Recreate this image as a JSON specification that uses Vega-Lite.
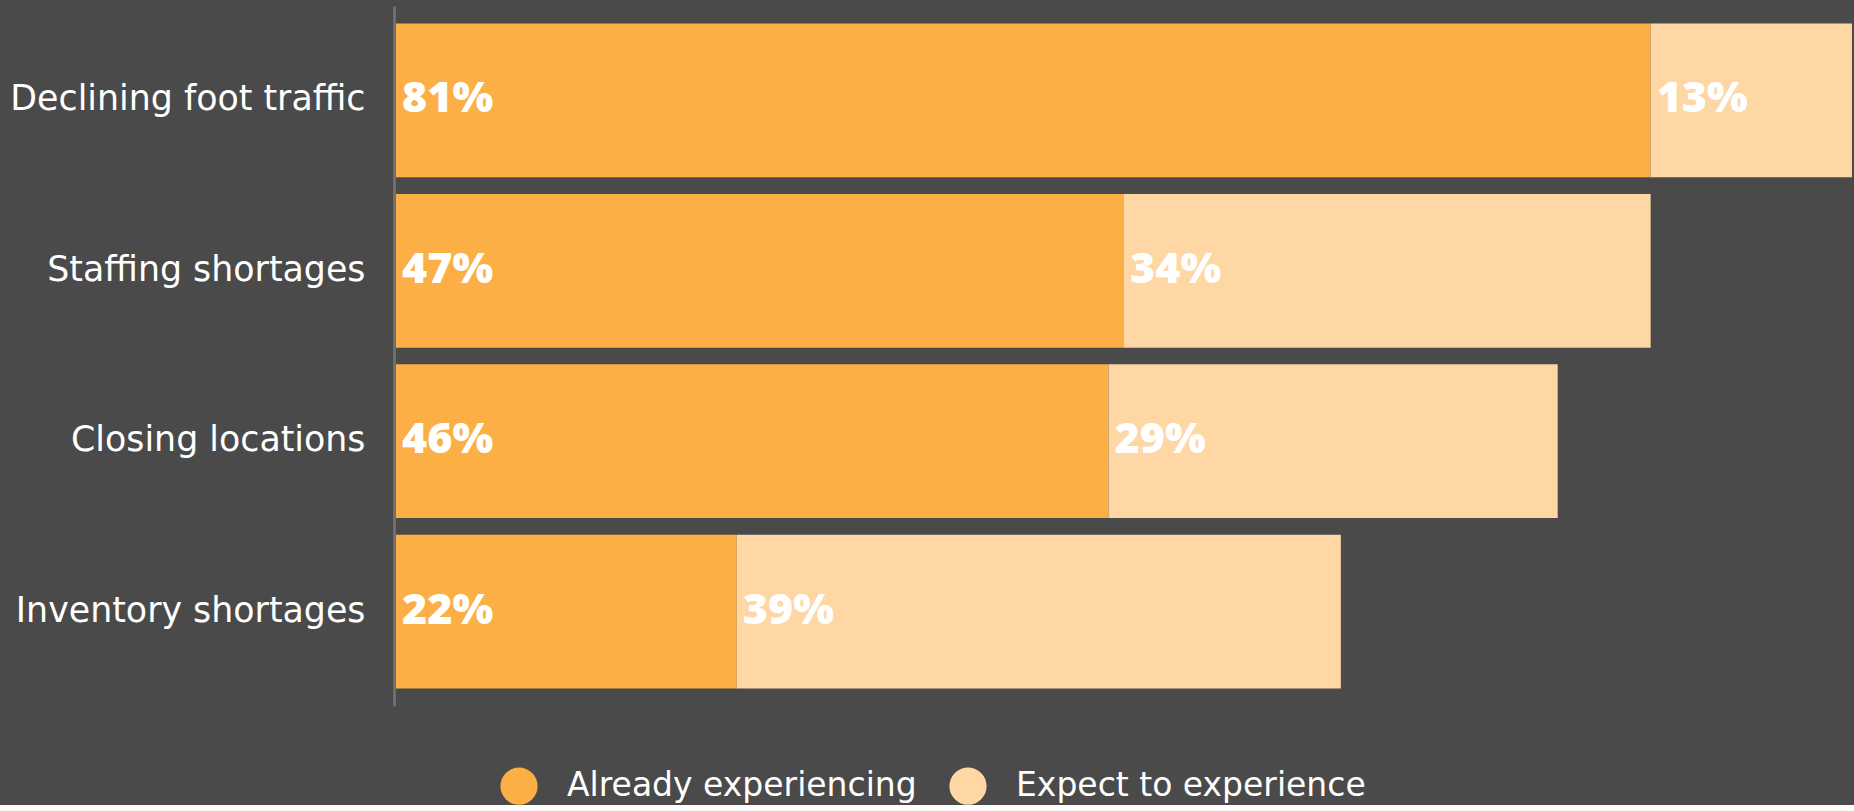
{
  "$schema": "https://vega.github.io/schema/vega-lite/v6.json",
  "autosize": {"type": "none"},
  "padding": {"left": 396, "top": 6, "right": 2, "bottom": 99},
  "width": 1456,
  "height": 700,
  "background": "#4a4a4a",
  "config": {
    "view": {"stroke": null},
    "font": "DejaVu Sans"
  },
  "data": {
    "values": [
      {"category": "Declining foot traffic", "series": "Already experiencing", "value": 81},
      {"category": "Declining foot traffic", "series": "Expect to experience", "value": 13},
      {"category": "Staffing shortages", "series": "Already experiencing", "value": 47},
      {"category": "Staffing shortages", "series": "Expect to experience", "value": 34},
      {"category": "Closing locations", "series": "Already experiencing", "value": 46},
      {"category": "Closing locations", "series": "Expect to experience", "value": 29},
      {"category": "Inventory shortages", "series": "Already experiencing", "value": 22},
      {"category": "Inventory shortages", "series": "Expect to experience", "value": 39}
    ]
  },
  "transform": [
    {"stack": "value", "groupby": ["category"], "sort": [{"field": "series", "order": "ascending"}], "as": ["v0", "v1"]},
    {"calculate": "datum.value + '%'", "as": "label"}
  ],
  "encoding": {
    "y": {
      "field": "category",
      "type": "nominal",
      "sort": null,
      "scale": {"paddingInner": 0.098, "paddingOuter": 0.103},
      "axis": {
        "title": null,
        "ticks": false,
        "domain": true,
        "domainColor": "#6e6e6e",
        "domainWidth": 3,
        "offset": 2,
        "labelPadding": 29,
        "labelFontSize": 34.8,
        "labelFont": "DejaVu Sans",
        "labelFontWeight": "normal",
        "labelColor": "#ffffff",
        "labelAlign": "right",
        "labelBaseline": "middle",
        "labelLimit": 0,
        "grid": false
      }
    }
  },
  "layer": [
    {
      "mark": {"type": "bar"},
      "encoding": {
        "x": {"field": "v0", "type": "quantitative", "scale": {"domain": [0, 94], "nice": false, "zero": true}, "axis": null},
        "x2": {"field": "v1"},
        "color": {
          "field": "series",
          "type": "nominal",
          "scale": {"domain": ["Already experiencing", "Expect to experience"], "range": ["#fbaf45", "#fed7a4"]},
          "legend": {
            "title": null,
            "orient": "none",
            "direction": "horizontal",
            "legendX": 104,
            "legendY": 761,
            "padding": 0,
            "symbolType": "circle",
            "symbolSize": 1385,
            "symbolStrokeWidth": 0,
            "symbolOpacity": 1,
            "labelFontSize": 33,
            "labelFont": "DejaVu Sans",
            "labelFontWeight": "normal",
            "labelColor": "#ffffff",
            "labelOffset": 29,
            "columnPadding": 32,
            "labelLimit": 0
          }
        }
      }
    },
    {
      "mark": {"type": "text", "align": "left", "baseline": "middle", "dx": 6, "dy": -1, "fontSize": 43, "fontWeight": 800, "font": "Open Sans", "color": "#ffffff"},
      "encoding": {
        "x": {"field": "v0", "type": "quantitative"},
        "text": {"field": "label", "type": "nominal"},
        "detail": {"field": "series"}
      }
    }
  ]
}
